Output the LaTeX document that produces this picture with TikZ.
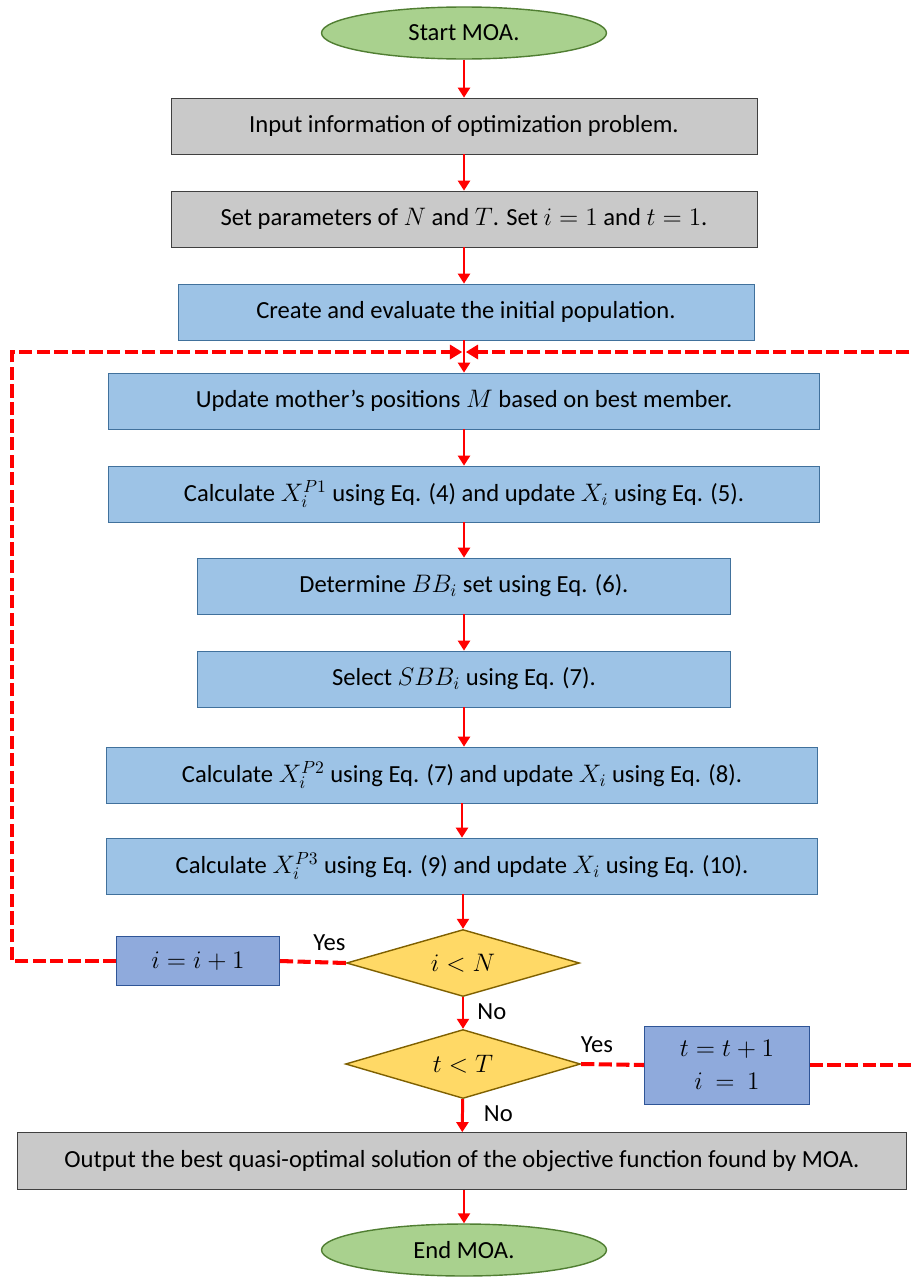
\documentclass[tikz,border=0pt]{standalone}
\usepackage{amsmath}
\usepackage{fontspec}
\setmainfont{Carlito}
\usepackage{tikz}
\usetikzlibrary{shapes.geometric,arrows.meta}

\definecolor{boxgrey}{HTML}{C9C9C9}
\definecolor{boxblue}{HTML}{9DC3E6}
\definecolor{lineblue}{HTML}{41719C}
\definecolor{stepblue}{HTML}{8FAADC}
\definecolor{linestep}{HTML}{2F5597}
\definecolor{condyellow}{HTML}{FFD966}
\definecolor{condline}{HTML}{7F6000}
\definecolor{termgreen}{HTML}{A9D18E}
\definecolor{termline}{HTML}{507E32}

\begin{document}
\begin{tikzpicture}[x=0.02cm,y=-0.02cm,
  every node/.style={font=\fontsize{14}{17}\selectfont},
  greybox/.style={draw=black!75,fill=boxgrey,minimum height=1.12cm,inner sep=0pt},
  bluebox/.style={draw=lineblue,fill=boxblue,minimum height=1.12cm,inner sep=0pt},
  stepbox/.style={draw=linestep,fill=stepblue,inner sep=0pt,align=center},
  decision/.style={diamond,draw=condline,thick,fill=condyellow,aspect=3.5,inner sep=0pt,minimum width=4.66cm,minimum height=1.34cm},
  startend/.style={ellipse,draw=termline,thick,fill=termgreen,minimum width=5.7cm,minimum height=1.04cm,inner sep=0pt},
  flow/.style={red,line width=1.7pt,-{Triangle[length=5.7pt,width=6.8pt]}},
  loopline/.style={red,line width=2.3pt,dash pattern=on 7.5pt off 2.5pt}]
\useasboundingbox (0,0) rectangle (912,1278);

\node[startend] (start) at (464,33) {Start MOA.};
\node[greybox,minimum width=11.72cm] (input) at (464,126) {Input information of optimization problem.};
\node[greybox,minimum width=11.72cm] (param) at (464,219) {Set parameters of $N$ and $T$. Set $i=1$ and $t=1$.};
\node[bluebox,minimum width=11.52cm] (init) at (466,312) {Create and evaluate the initial population.};
\node[bluebox,minimum width=14.22cm] (mother) at (464,401) {Update mother's positions $M$ based on best member.};
\node[bluebox,minimum width=14.22cm] (phase1) at (464,494) {Calculate $X_i^{P1}$ using Eq. (4) and update $X_i$ using Eq. (5).};
\node[bluebox,minimum width=10.66cm] (bbset) at (464,586) {Determine $BB_i$ set using Eq. (6).};
\node[bluebox,minimum width=10.66cm] (sbb) at (464,679) {Select $SBB_i$ using Eq. (7).};
\node[bluebox,minimum width=14.22cm] (phase2) at (462,775) {Calculate $X_i^{P2}$ using Eq. (7) and update $X_i$ using Eq. (8).};
\node[bluebox,minimum width=14.22cm] (phase3) at (462,866) {Calculate $X_i^{P3}$ using Eq. (9) and update $X_i$ using Eq. (10).};
\node[decision] (condi) at (463,963) {$i<N$};
\node[stepbox,minimum width=3.26cm,minimum height=0.98cm] (inci) at (198,961) {$i=i+1$};
\node[decision,minimum width=4.7cm,minimum height=1.38cm] (condt) at (463,1064) {$t<T$};
\node[stepbox,minimum width=3.3cm,minimum height=1.56cm] (inct) at (727,1065) {$t=t+1$\\[2pt]$i\ =\ 1$};
\node[greybox,minimum width=17.78cm,minimum height=1.14cm] (output) at (462,1161) {Output the best quasi-optimal solution of the objective function found by MOA.};
\node[startend] (stop) at (464,1250) {End MOA.};

% main flow
\draw[flow] (start) -- (input);
\draw[flow] (input) -- (param);
\draw[flow] (param) -- (param |- init.north);
\draw[flow] (init.south -| mother) -- (mother);
\draw[flow] (mother) -- (phase1);
\draw[flow] (phase1) -- (bbset);
\draw[flow] (bbset) -- (sbb);
\draw[flow] (sbb.south) -- (phase2.north -| sbb);
\draw[flow] (phase2) -- (phase3);
\draw[flow] (phase3.south -| condi) -- (condi);
\draw[flow] (condi) -- (condt) node[pos=0.45,right=4pt,black] {No};
\draw[flow] (condt) -- (output) node[pos=0.45,right=8pt,black] {No};
\draw[flow] (output.south -| stop) -- (stop);

% loops back
\coordinate (join) at (464,352);
\coordinate (leftedge) at (12,352);
\coordinate (rightedge) at (916,352);
\draw[loopline] (condi.west) -- (inci.east) node[pos=0.25,above=2pt,black] {Yes};
\draw[loopline,-{Triangle[length=7pt,width=8pt]}] (inci.west) -- (inci.west -| leftedge) -- (leftedge) -- ([xshift=-1]join);
\draw[loopline] (condt.east) -- (inct.west) node[pos=0.25,above=2pt,black] {Yes};
\draw[loopline,-{Triangle[length=7pt,width=8pt]}] (inct.east) -- (inct.east -| rightedge) -- (rightedge) -- ([xshift=1]join);
\end{tikzpicture}
\end{document}
